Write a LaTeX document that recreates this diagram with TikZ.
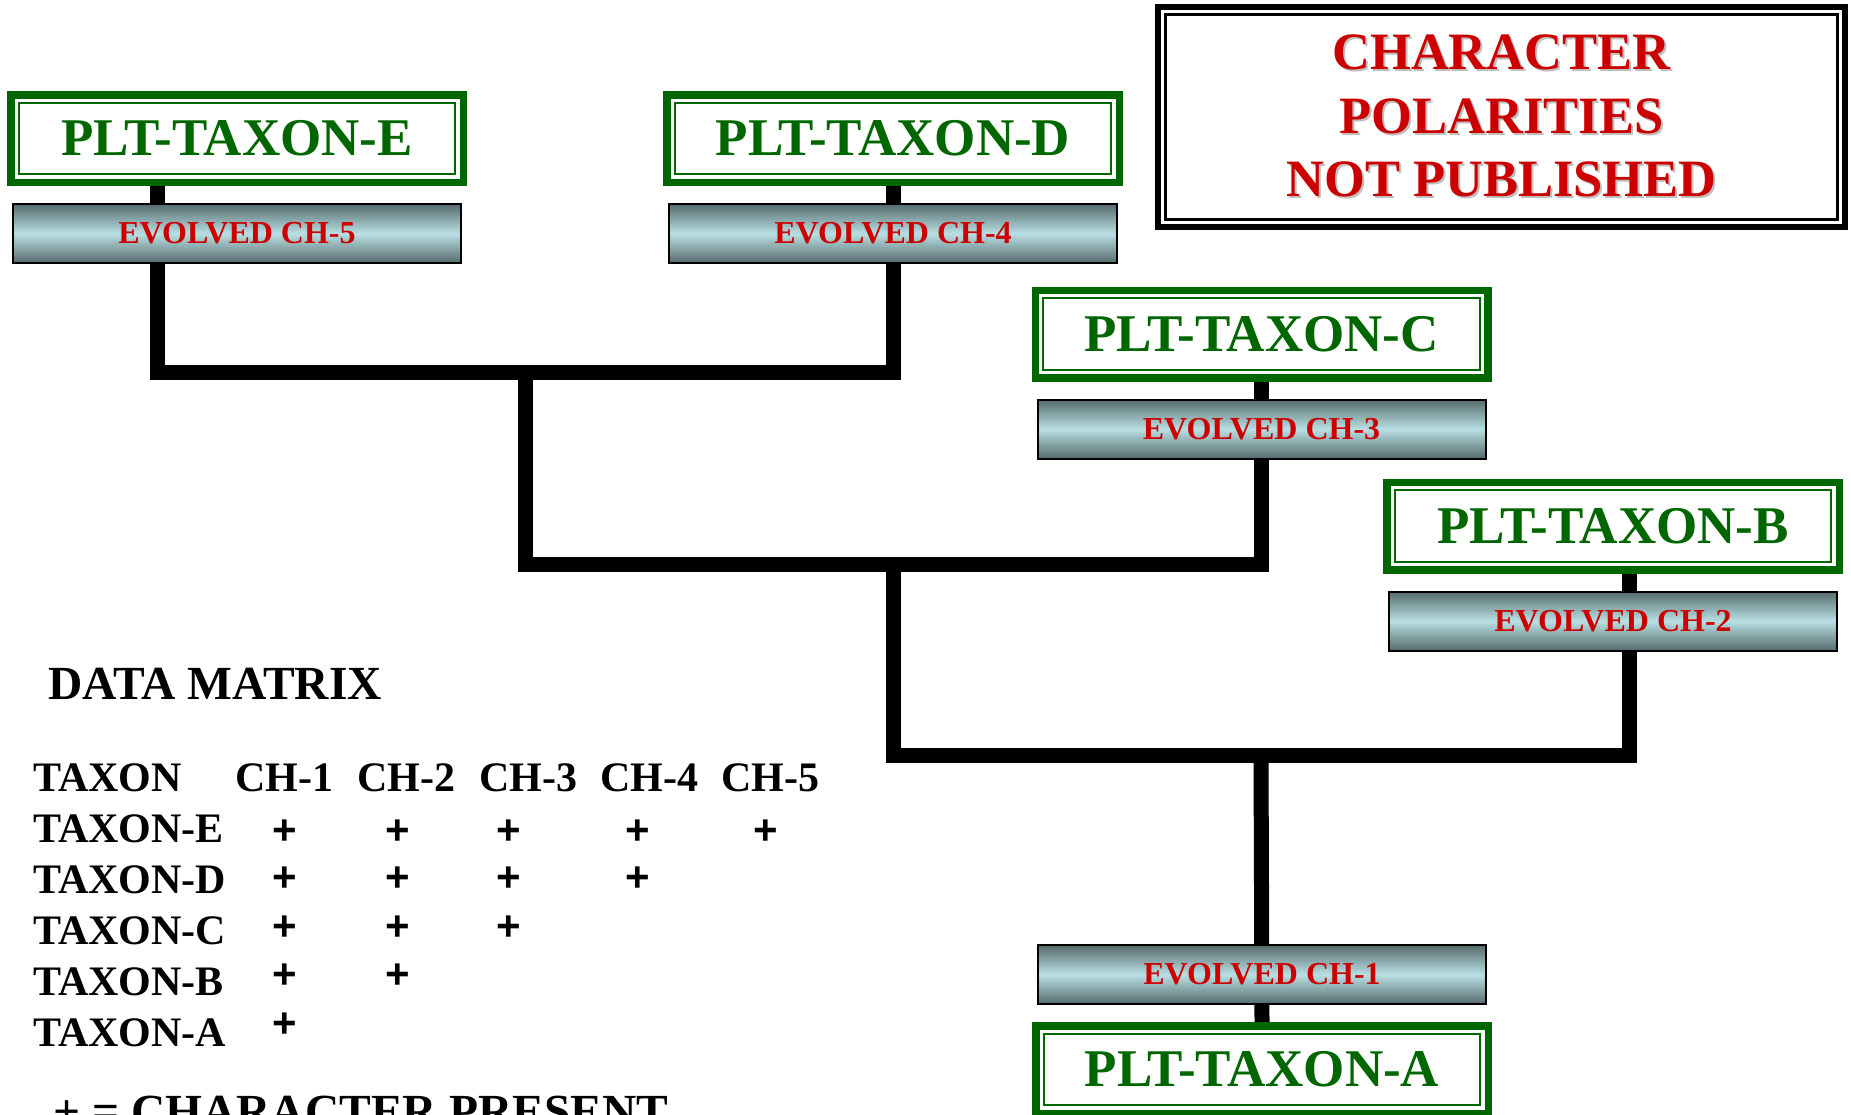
\documentclass[tikz,border=0pt]{standalone}
\usepackage{fontspec}
\setmainfont{Liberation Serif}
\setsansfont{Liberation Sans}
\usetikzlibrary{positioning,backgrounds}
\definecolor{taxgreen}{RGB}{0,102,0}
\definecolor{evred}{RGB}{204,0,0}
\definecolor{evdark}{RGB}{86,106,108}
\definecolor{evlight}{RGB}{184,224,228}
\newcommand\shtext[1]{\rlap{\kern2pt\raisebox{-2pt}{\textcolor{black!25}{#1}}}#1}

\begin{document}
\begin{tikzpicture}[x=1pt,y=-1pt,
taxon/.style={draw=taxgreen,line width=7.5pt,fill=white,inner sep=0pt,
 minimum width=452.5pt,minimum height=87.5pt,text=taxgreen,
 font=\fontsize{53}{60}\selectfont\bfseries,
 path picture={\draw[taxgreen,line width=2pt]
 ([shift={(8pt,-8pt)}]path picture bounding box.north west) rectangle
 ([shift={(-8pt,8pt)}]path picture bounding box.south east);}},
evolved/.style={draw=black,line width=2pt,inner sep=0pt,
 minimum width=448pt,minimum height=59pt,top color=evdark,
 bottom color=evdark,middle color=evlight,text=evred,
 font=\fontsize{32}{38}\selectfont\bfseries},
polbox/.style={draw=black,line width=6pt,fill=white,inner sep=0pt,
 minimum width=687pt,minimum height=220pt,align=center,text=evred,
 font=\fontsize{52.5}{63.5}\selectfont\bfseries,
 path picture={\draw[line width=2.5pt]
 ([shift={(7.5pt,-7.5pt)}]path picture bounding box.north west) rectangle
 ([shift={(-7.5pt,7.5pt)}]path picture bounding box.south east);}},
branch/.style={line width=15pt},
mtx/.style={inner sep=0pt,font=\fontsize{42}{50}\selectfont\bfseries},
plus/.style={inner sep=0pt,font=\fontsize{42}{50}\selectfont\sffamily\bfseries}]
 \useasboundingbox (0,0) rectangle (1851,1114);

 % taxa and evolved characters
 \foreach \X/\P/\k in {E/{237,138.5}/5,D/{893,138.5}/4,C/{1261.5,334}/3,B/{1613,526}/2}
 {\node[taxon] (t\X) at (\P) {PLT-TAXON-\X};
 \node[evolved,below=17pt of t\X] (e\X) {EVOLVED CH-\k};}
 \node[taxon] (tA) at (1262,1069.5) {PLT-TAXON-A};
 \node[evolved,above=17pt of tA] (eA) {EVOLVED CH-1};

 \node[polbox] (pol) at (1501.5,117)
 {\shtext{CHARACTER}\\\shtext{POLARITIES}\\\shtext{NOT PUBLISHED}};

 % branches
 \coordinate (jED) at (525,372);
 \coordinate (jEDC) at (893,564);
 \coordinate (jR) at (1261,755);
 \begin{scope}[on background layer]
 \fill[white] (0,0) rectangle (1851,1114);
 \draw[branch] ([xshift=-80pt]tE.south) |- (jED) -| (tD.south);
 \draw[branch] (jED) |- (jEDC) -| (tC.south);
 \draw[branch] (jEDC) |- (jR) -| ([xshift=16pt]tB.south);
 \draw[branch] (jR) -- (tA.north);
 \end{scope}

 % data matrix
 \node[mtx,font=\fontsize{47.5}{54}\selectfont\bfseries,anchor=west] (title) at (48,684) {DATA MATRIX};
 \node[mtx,anchor=west] (hd) at (33,777.5) {TAXON};
 \foreach \x [count=\X] in {284.5,406.5,528,649,770}
 \node[mtx] (ch\X) at (\x,777.5) {CH-\X};
 \foreach \R/\y/\py/\n in {E/829/832/5,D/880/879.5/4,C/931/928/3,B/982/976/2,A/1033/1025/1}
 {\node[mtx,anchor=west] (r\R) at (33,\y) {TAXON-\R};
 \foreach \x [count=\X] in {284.5,398,509,637.5,766}
 {\ifnum\X>\n\relax\else\node[plus] (p\R\X) at (\x,\py) {+};\fi}}
 \node[mtx,font=\fontsize{47.5}{54}\selectfont\bfseries,anchor=base west] (key) at (53,1127) {+ = CHARACTER PRESENT};

\end{tikzpicture}
\end{document}
